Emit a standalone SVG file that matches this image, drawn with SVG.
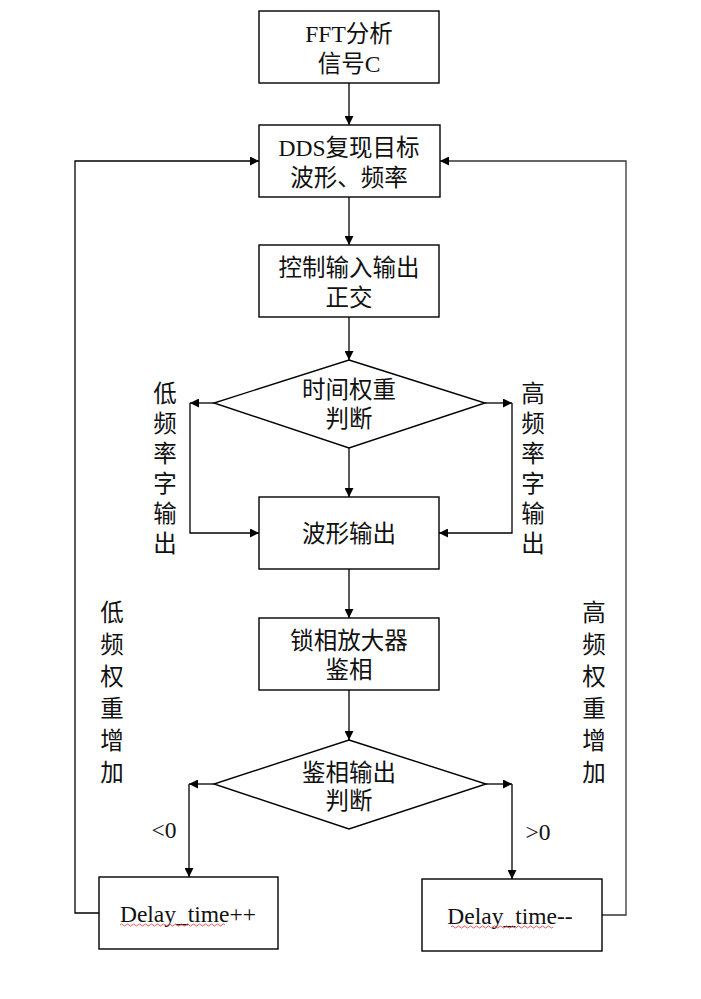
<svg xmlns="http://www.w3.org/2000/svg" width="701" height="999" viewBox="0 0 701 999">
<style>
.box{fill:#fff;stroke:#000;stroke-width:1.4}
.ln{fill:none;stroke:#000;stroke-width:1.3}
.t{font-family:"Liberation Serif","Noto Sans CJK SC",serif;font-size:23.5px;fill:#111;text-anchor:middle}
.wv{fill:none;stroke:#e03030;stroke-width:0.8}
</style>
<defs>
<marker id="ah" viewBox="0 0 10 10" refX="10" refY="5" markerWidth="9" markerHeight="9" markerUnits="userSpaceOnUse" orient="auto">
<path d="M0,0 L10,5 L0,10 z" fill="#000"/>
</marker>
</defs>
<g id="connectors">
<path class="ln" d="M349,83 V125" marker-end="url(#ah)"/>
<path class="ln" d="M349,197 V245" marker-end="url(#ah)"/>
<path class="ln" d="M349,317 V360" marker-end="url(#ah)"/>
<path class="ln" d="M214,403 H190" marker-end="url(#ah)"/>
<path class="ln" d="M190,403 V533 H259" marker-end="url(#ah)"/>
<path class="ln" d="M485,403 H512" marker-end="url(#ah)"/>
<path class="ln" d="M512,403 V533 H439" marker-end="url(#ah)"/>
<path class="ln" d="M349,448 V497" marker-end="url(#ah)"/>
<path class="ln" d="M349,569 V618" marker-end="url(#ah)"/>
<path class="ln" d="M349,690 V740" marker-end="url(#ah)"/>
<path class="ln" d="M214,784 H189" marker-end="url(#ah)"/>
<path class="ln" d="M189,784 V877" marker-end="url(#ah)"/>
<path class="ln" d="M486,784 H512" marker-end="url(#ah)"/>
<path class="ln" d="M512,784 V879" marker-end="url(#ah)"/>
<path class="ln" d="M99,913 H75 V161 H259" marker-end="url(#ah)"/>
<path class="ln" d="M602,915 H626 V161 H440" marker-end="url(#ah)" style="stroke:#333"/>
</g>
<g id="n1"><rect class="box" x="259" y="11" width="180" height="72"/>
<text class="t" x="349" y="42">FFT分析</text><text class="t" x="349" y="72">信号C</text></g>
<g id="n2"><rect class="box" x="259" y="125" width="181" height="72"/>
<text class="t" x="349" y="156">DDS复现目标</text><text class="t" x="349" y="186">波形、频率</text></g>
<g id="n3"><rect class="box" x="259" y="245" width="180" height="72"/>
<text class="t" x="349" y="276">控制输入输出</text><text class="t" x="349" y="306">正交</text></g>
<g id="n4"><path class="box" d="M349,360 L485,403 L349,448 L214,403 Z"/>
<text class="t" x="349" y="398">时间权重</text><text class="t" x="349" y="427">判断</text></g>
<g id="n5"><rect class="box" x="259" y="497" width="180" height="72"/>
<text class="t" x="349" y="542">波形输出</text></g>
<g id="n6"><rect class="box" x="259" y="618" width="180" height="72"/>
<text class="t" x="349" y="649">锁相放大器</text><text class="t" x="349" y="678">鉴相</text></g>
<g id="n7"><path class="box" d="M349,740 L486,784 L349,829 L214,784 Z"/>
<text class="t" x="349" y="781">鉴相输出</text><text class="t" x="349" y="809">判断</text></g>
<g id="n8"><rect class="box" x="99" y="877" width="179" height="72"/>
<text class="t" x="188" y="922">Delay_time++</text>
<path class="wv" d="M120,925 q1.5,-2 3,0 t3,0 t3,0 t3,0 t3,0 t3,0 t3,0 t3,0 t3,0 t3,0 t3,0 t3,0 t3,0 t3,0 t3,0 t3,0 t3,0 t3,0 t3,0 t3,0 t3,0 t3,0 t3,0 t3,0 t3,0 t3,0 t3,0 t3,0 t3,0 t3,0 t3,0 t3,0 t3,0 t3,0 t3,0"/></g>
<g id="n9"><rect class="box" x="422" y="879" width="180" height="72"/>
<text class="t" x="510" y="924">Delay_time--</text>
<path class="wv" d="M451,927 q1.5,-2 3,0 t3,0 t3,0 t3,0 t3,0 t3,0 t3,0 t3,0 t3,0 t3,0 t3,0 t3,0 t3,0 t3,0 t3,0 t3,0 t3,0 t3,0 t3,0 t3,0 t3,0 t3,0 t3,0 t3,0 t3,0 t3,0 t3,0 t3,0 t3,0 t3,0 t3,0 t3,0 t3,0 t3,0"/></g>
<g id="labels">
<text class="t" x="165"><tspan x="165" y="402">低</tspan><tspan x="165" y="432">频</tspan><tspan x="165" y="462">率</tspan><tspan x="165" y="492">字</tspan><tspan x="165" y="522">输</tspan><tspan x="165" y="552">出</tspan></text>
<text class="t" x="533"><tspan x="533" y="402">高</tspan><tspan x="533" y="432">频</tspan><tspan x="533" y="462">率</tspan><tspan x="533" y="492">字</tspan><tspan x="533" y="522">输</tspan><tspan x="533" y="552">出</tspan></text>
<text class="t" x="112"><tspan x="112" y="621">低</tspan><tspan x="112" y="653">频</tspan><tspan x="112" y="685">权</tspan><tspan x="112" y="717">重</tspan><tspan x="112" y="749">增</tspan><tspan x="112" y="781">加</tspan></text>
<text class="t" x="594"><tspan x="594" y="621">高</tspan><tspan x="594" y="653">频</tspan><tspan x="594" y="685">权</tspan><tspan x="594" y="717">重</tspan><tspan x="594" y="749">增</tspan><tspan x="594" y="781">加</tspan></text>
<text class="t" x="164" y="838">&lt;0</text>
<text class="t" x="538" y="840">&gt;0</text>
</g>
</svg>
